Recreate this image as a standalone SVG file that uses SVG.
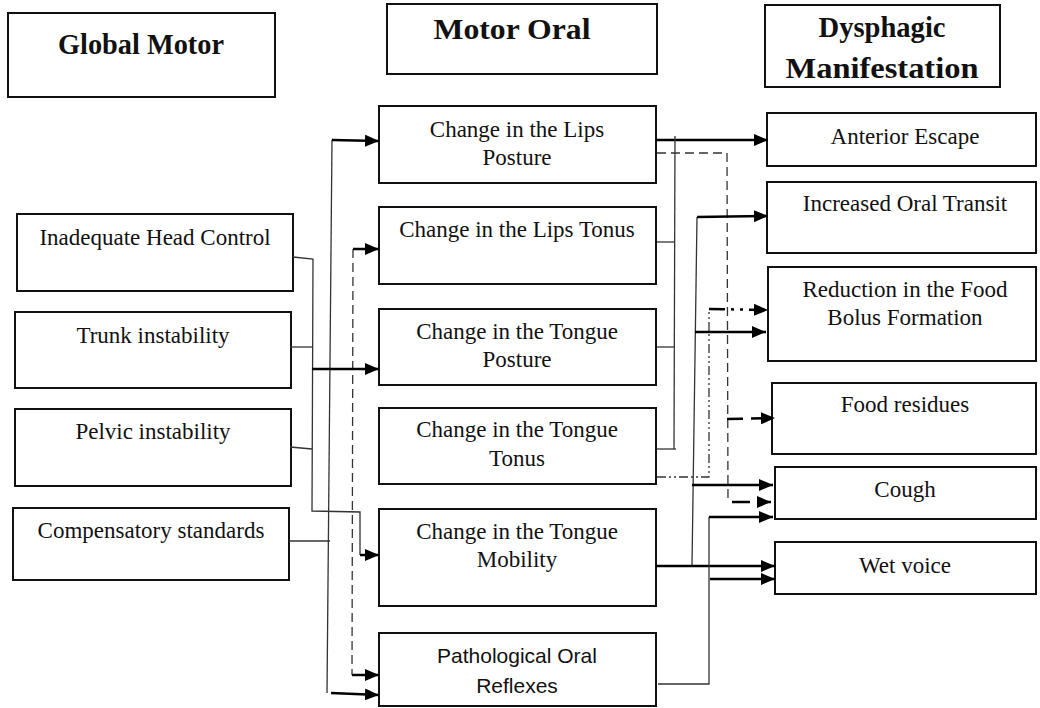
<svg xmlns="http://www.w3.org/2000/svg" width="1040" height="708" viewBox="0 0 1040 708">
<style>
.box{fill:#fff;stroke:#111;stroke-width:2}
.t{font-family:"Liberation Serif","Times New Roman",serif;font-size:23px;text-anchor:middle;fill:#111}
.h{font-weight:bold;font-size:29px}
.s{font-family:"Liberation Sans",Arial,sans-serif;font-size:21px}
.thin{fill:none;stroke:#333;stroke-width:1.3}
.dash{fill:none;stroke:#333;stroke-width:1.3;stroke-dasharray:9 5}
.dd{fill:none;stroke:#333;stroke-width:1.3;stroke-dasharray:9 3 2 3 2 3}
.arr{fill:none;stroke:#000;stroke-width:2.5;marker-end:url(#ah)}
.arrd{fill:none;stroke:#000;stroke-width:2.5;stroke-dasharray:16 8;marker-end:url(#ah)}
.arrdd{fill:none;stroke:#000;stroke-width:2.5;stroke-dasharray:16 6 3 6 3 6;marker-end:url(#ah)}
</style>
<defs>
<marker id="ah" markerUnits="userSpaceOnUse" markerWidth="14" markerHeight="12" refX="14" refY="6" orient="auto">
<path d="M0,0 L14,6 L0,12 z" fill="#000"/>
</marker>
</defs>

<g id="hdr-global"><rect class="box" x="8" y="13" width="267" height="84"/><text class="t h" x="141" y="54" textLength="166" lengthAdjust="spacingAndGlyphs">Global Motor</text></g>
<g id="hdr-oral"><rect class="box" x="387" y="4" width="270" height="70"/><text class="t h" x="512" y="39" textLength="157" lengthAdjust="spacingAndGlyphs">Motor Oral</text></g>
<g id="hdr-dys"><rect class="box" x="765" y="5" width="235" height="82"/><text class="t h" x="882" y="37" textLength="127" lengthAdjust="spacingAndGlyphs">Dysphagic</text><text class="t h" x="882" y="78" textLength="193" lengthAdjust="spacingAndGlyphs">Manifestation</text></g>

<g id="n-head"><rect class="box" x="17" y="214" width="276" height="77"/><text class="t" x="155" y="245">Inadequate Head Control</text></g>
<g id="n-trunk"><rect class="box" x="15" y="312" width="276" height="76"/><text class="t" x="153" y="343">Trunk instability</text></g>
<g id="n-pelvic"><rect class="box" x="15" y="409" width="276" height="77"/><text class="t" x="153" y="439">Pelvic instability</text></g>
<g id="n-comp"><rect class="box" x="13" y="508" width="276" height="72"/><text class="t" x="151" y="538">Compensatory standards</text></g>

<g id="n-lipsp"><rect class="box" x="379" y="106" width="277" height="77"/><text class="t" x="517" y="137">Change in the Lips</text><text class="t" x="517" y="165">Posture</text></g>
<g id="n-lipst"><rect class="box" x="379" y="207" width="277" height="77"/><text class="t" x="517" y="237">Change in the Lips Tonus</text></g>
<g id="n-tongp"><rect class="box" x="379" y="309" width="277" height="76"/><text class="t" x="517" y="339">Change in the Tongue</text><text class="t" x="517" y="367">Posture</text></g>
<g id="n-tongt"><rect class="box" x="379" y="408" width="277" height="76"/><text class="t" x="517" y="437">Change in the Tongue</text><text class="t" x="517" y="466">Tonus</text></g>
<g id="n-tongm"><rect class="box" x="379" y="509" width="277" height="97"/><text class="t" x="517" y="539">Change in the Tongue</text><text class="t" x="517" y="567">Mobility</text></g>
<g id="n-path"><rect class="box" x="379" y="633" width="277" height="73"/><text class="t s" x="517" y="663">Pathological Oral</text><text class="t s" x="517" y="693">Reflexes</text></g>

<g id="n-ant"><rect class="box" x="767" y="113" width="269" height="53"/><text class="t" x="905" y="144">Anterior Escape</text></g>
<g id="n-inc"><rect class="box" x="767" y="182" width="269" height="71"/><text class="t" x="905" y="211">Increased Oral Transit</text></g>
<g id="n-red"><rect class="box" x="768" y="267" width="268" height="94"/><text class="t" x="905" y="297">Reduction in the Food</text><text class="t" x="905" y="325">Bolus Formation</text></g>
<g id="n-food"><rect class="box" x="772" y="383" width="264" height="71"/><text class="t" x="905" y="412">Food residues</text></g>
<g id="n-cough"><rect class="box" x="775" y="467" width="261" height="52"/><text class="t" x="905" y="497">Cough</text></g>
<g id="n-wet"><rect class="box" x="775" y="542" width="261" height="52"/><text class="t" x="905" y="573">Wet voice</text></g>

<g id="connectors">
<path class="thin" d="M332,140 L327,693"/>
<path class="thin" d="M289,541 L330,541"/>
<path class="arr" d="M332,140 L379,141"/>
<path class="arr" d="M331,693 L379,695"/>
<path class="dash" d="M353,249 L352,675"/>
<path class="arr" d="M353,249 L379,249"/>
<path class="arr" d="M352,675 L379,675"/>
<path class="thin" d="M293,257 L313,259 L312,511 L360,512 L360,555"/>
<path class="thin" d="M290,347 L312,347"/>
<path class="thin" d="M290,447 L312,449"/>
<path class="arr" d="M312,369 L379,369"/>
<path class="arr" d="M360,555 L379,555"/>
<path class="arr" d="M656,140 L768,140"/>
<path class="thin" d="M675,136 L674,449"/>
<path class="thin" d="M657,242 L674,242"/>
<path class="thin" d="M657,347 L674,347"/>
<path class="thin" d="M657,449 L676,449"/>
<path class="dash" d="M657,153 L727,153 L728,503"/>
<path class="arrd" d="M727,419 L775,418"/>
<path class="arrd" d="M728,502 L771,502" style="stroke-dasharray:0 4 18 8"/>
<path class="thin" d="M697,217 L692,566"/>
<path class="arr" d="M697,217 L768,216"/>
<path class="arr" d="M695,332 L766,332"/>
<path class="arr" d="M692,485 L773,485"/>
<path class="arr" d="M656,566 L775,566"/>
<path class="dd" d="M657,477 L709,477 L709,309"/>
<path class="arrdd" d="M709,309 L768,310"/>
<path class="thin" d="M658,684 L709,684 L709,517"/>
<path class="arr" d="M709,517 L773,517"/>
<path class="arr" d="M710,579 L775,579"/>
</g>
</svg>
